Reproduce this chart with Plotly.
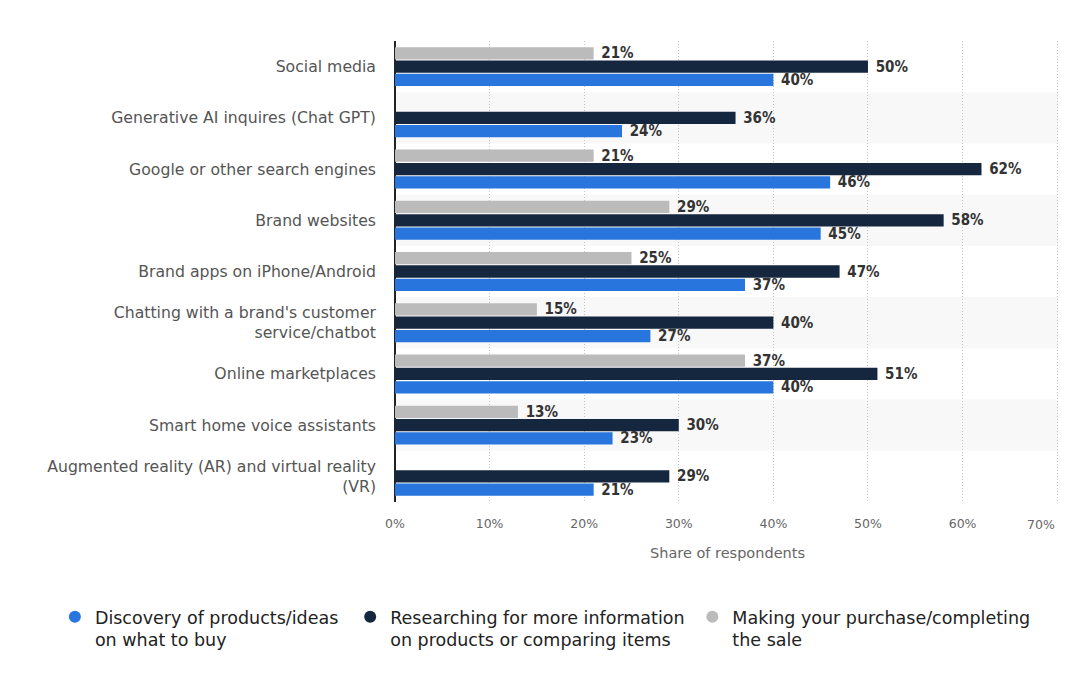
import plotly.graph_objects as go

categories = [
    "Social media",
    "Generative AI inquires (Chat GPT)",
    "Google or other search engines",
    "Brand websites",
    "Brand apps on iPhone/Android",
    "Chatting with a brand's customer<br>service/chatbot",
    "Online marketplaces",
    "Smart home voice assistants",
    "Augmented reality (AR) and virtual reality<br>(VR)",
]
discovery = [40, 24, 46, 45, 37, 27, 40, 23, 21]
researching = [50, 36, 62, 58, 47, 40, 51, 30, 29]
purchase = [21, None, 21, 29, 25, 15, 37, 13, None]

series_names = [
    "Discovery of products/ideas<br>on what to buy",
    "Researching for more information<br>on products or comparing items",
    "Making your purchase/completing<br>the sale",
]
colors = ["#2876dd", "#14273e", "#bbbbbb"]

x_ticks = [0, 10, 20, 30, 40, 50, 60, 70]
x_tick_labels = ["0%", "10%", "20%", "30%", "40%", "50%", "60%", "70%"]

label_font = dict(family="DejaVu Sans Condensed", size=15, color="#333333")
tick_font = dict(family="DejaVu Sans", size=12.5, color="#666666")

fig = go.Figure()
# add in reverse order so that blue sits at the bottom of each group
for name, vals, col in [
    (series_names[2], purchase, colors[2]),
    (series_names[1], researching, colors[1]),
    (series_names[0], discovery, colors[0]),
]:
    fig.add_trace(go.Bar(
        y=categories, x=vals, orientation="h", name=name,
        marker=dict(color=col, line=dict(width=0)),
        text=[f"<b> {v}%</b>" if v is not None else "" for v in vals],
        textposition="outside", textfont=label_font, cliponaxis=False,
        constraintext="none", showlegend=False, hoverinfo="x+name",
    ))

# legend entries with circular symbols, one legend per series
legend_ids = ["legend", "legend2", "legend3"]
for name, col, lid in zip(series_names, colors, legend_ids):
    fig.add_trace(go.Scatter(
        x=[None], y=[None], mode="markers", name=name, legend=lid,
        marker=dict(symbol="circle", size=16, color=col),
        showlegend=True,
    ))

shapes = []
for i in range(len(categories)):
    if i % 2 == 1:
        shapes.append(dict(type="rect", xref="paper", yref="y", x0=0, x1=1,
                           y0=i - 0.5, y1=i + 0.5, fillcolor="#f8f8f8",
                           line=dict(width=0), layer="below"))

# last tick label is pulled inside the chart (right-aligned at its tick)
tick_text = x_tick_labels[:-1] + [""]
annotations = [dict(x=x_ticks[-1], xref="x", y=0, yref="paper", yshift=-13,
                    text=x_tick_labels[-1], showarrow=False, xanchor="right",
                    yanchor="top", font=tick_font)]

leg_font = dict(family="DejaVu Sans", size=17.5, color="#222222")
leg_common = dict(orientation="h", xref="container", yref="container",
                  xanchor="left", yanchor="top", font=leg_font,
                  itemsizing="constant", valign="top", bgcolor="rgba(0,0,0,0)")

fig.update_layout(
    width=1066, height=690,
    paper_bgcolor="white", plot_bgcolor="white",
    barmode="group", bargap=0.22, bargroupgap=0.08,
    margin=dict(l=387, r=14, t=33, b=196, autoexpand=False),
    shapes=shapes, annotations=annotations,
    font=dict(family="DejaVu Sans", color="#555555"),
    xaxis=dict(
        range=[0, 70.3], tickvals=x_ticks, ticktext=tick_text, automargin=False,
        ticks="outside", ticklen=10, tickcolor="rgba(0,0,0,0)",
        showgrid=True, gridcolor="#c4c4c4", griddash="1px,2px", gridwidth=1,
        zeroline=True, zerolinecolor="#222222", zerolinewidth=2,
        tickfont=tick_font,
        title=dict(text="Share of respondents",
                   font=dict(family="DejaVu Sans", size=14.5, color="#666666"),
                   standoff=17),
        fixedrange=True,
    ),
    yaxis=dict(
        autorange="reversed", showgrid=False, automargin=False,
        tickfont=dict(family="DejaVu Sans", size=15.7, color="#555555"),
        ticklabelstandoff=18,
    ),
    legend=dict(x=0.044, y=0.1435, **leg_common),
    legend2=dict(x=0.321, y=0.1435, **leg_common),
    legend3=dict(x=0.642, y=0.1435, **leg_common),
)

fig.write_html("out.html")
